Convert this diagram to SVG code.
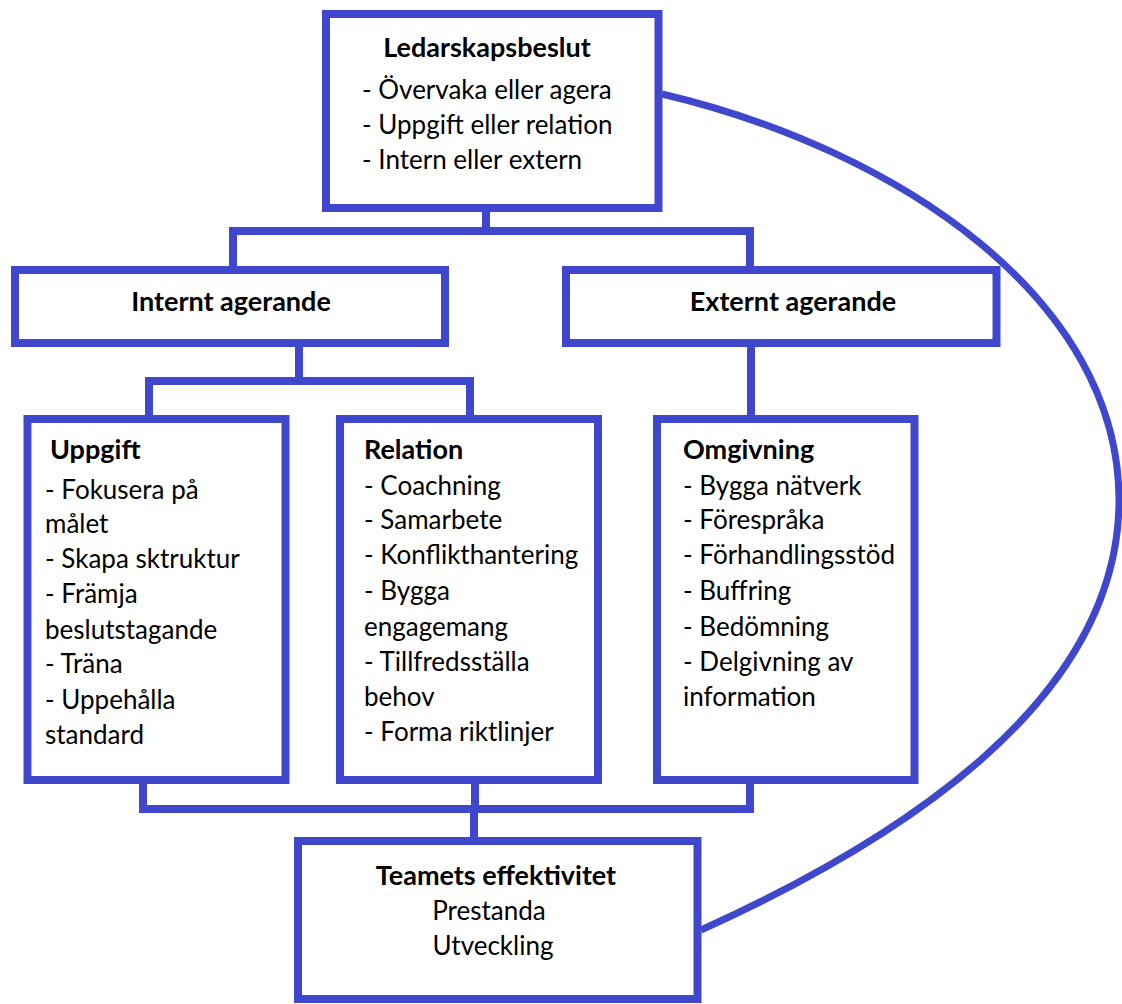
<svg xmlns="http://www.w3.org/2000/svg" width="1122" height="1004" viewBox="0 0 1122 1004">
<style>
.box{fill:#fff;stroke:#3f48cc;stroke-width:8}
.con{fill:none;stroke:#3f48cc;stroke-width:8;stroke-linejoin:miter;stroke-linecap:square}
.curve{fill:none;stroke:#3f48cc;stroke-width:7}
text{font-family:Lato,"Liberation Sans",sans-serif;font-size:26px;fill:#000}
.b{font-weight:bold;font-size:27px}
.m{text-anchor:middle}
</style>
<rect width="1122" height="1004" fill="#fff"/>
<g id="connectors">
<path class="con" d="M486,208 V231 M233,270 V231 H750 V270"/>
<path class="con" d="M299,343 V381 M149,419 V381 H470 V419"/>
<path class="con" d="M751,343 V419"/>
<path class="con" d="M143,780 V809 H750 V780 M475,780 V809 M474,809 V841"/>
<path class="curve" d="M662,94 C900,150 1119,300 1119,500 C1119,700 900,840 701,930"/>
</g>
<g id="ledarskapsbeslut">
<rect class="box" x="326" y="14" width="332.5" height="194"/>
<text class="b m" x="487" y="57">Ledarskapsbeslut</text>
<text x="362" y="99">- Övervaka eller agera</text>
<text x="362" y="134">- Uppgift eller relation</text>
<text x="362" y="169">- Intern eller extern</text>
</g>
<g id="internt">
<rect class="box" x="15" y="270" width="430" height="73"/>
<text class="b m" x="231" y="311">Internt agerande</text>
</g>
<g id="externt">
<rect class="box" x="566" y="270" width="430.5" height="73"/>
<text class="b m" x="793" y="311">Externt agerande</text>
</g>
<g id="uppgift">
<rect class="box" x="27.5" y="419" width="258" height="361"/>
<text class="b" x="50" y="459">Uppgift</text>
<text x="45" y="499">- Fokusera på</text>
<text x="45" y="533">målet</text>
<text x="45" y="568">- Skapa sktruktur</text>
<text x="45" y="603">- Främja</text>
<text x="45" y="639">beslutstagande</text>
<text x="45" y="673">- Träna</text>
<text x="45" y="709">- Uppehålla</text>
<text x="45" y="744">standard</text>
</g>
<g id="relation">
<rect class="box" x="340" y="419" width="258" height="361"/>
<text class="b" x="364" y="459">Relation</text>
<text x="364" y="495">- Coachning</text>
<text x="364" y="529">- Samarbete</text>
<text x="364" y="564">- Konflikthantering</text>
<text x="364" y="600">- Bygga</text>
<text x="364" y="636">engagemang</text>
<text x="364" y="671">- Tillfredsställa</text>
<text x="364" y="706">behov</text>
<text x="364" y="741">- Forma riktlinjer</text>
</g>
<g id="omgivning">
<rect class="box" x="657" y="419" width="257.5" height="361"/>
<text class="b" x="683" y="459">Omgivning</text>
<text x="683" y="495">- Bygga nätverk</text>
<text x="683" y="529">- Förespråka</text>
<text x="683" y="564">- Förhandlingsstöd</text>
<text x="683" y="600">- Buffring</text>
<text x="683" y="636">- Bedömning</text>
<text x="683" y="671">- Delgivning av</text>
<text x="683" y="706">information</text>
</g>
<g id="teamets">
<rect class="box" x="298" y="841" width="399.5" height="158"/>
<text class="b m" x="496" y="885">Teamets effektivitet</text>
<text class="m" x="489" y="920">Prestanda</text>
<text class="m" x="493" y="955">Utveckling</text>
</g>
</svg>
